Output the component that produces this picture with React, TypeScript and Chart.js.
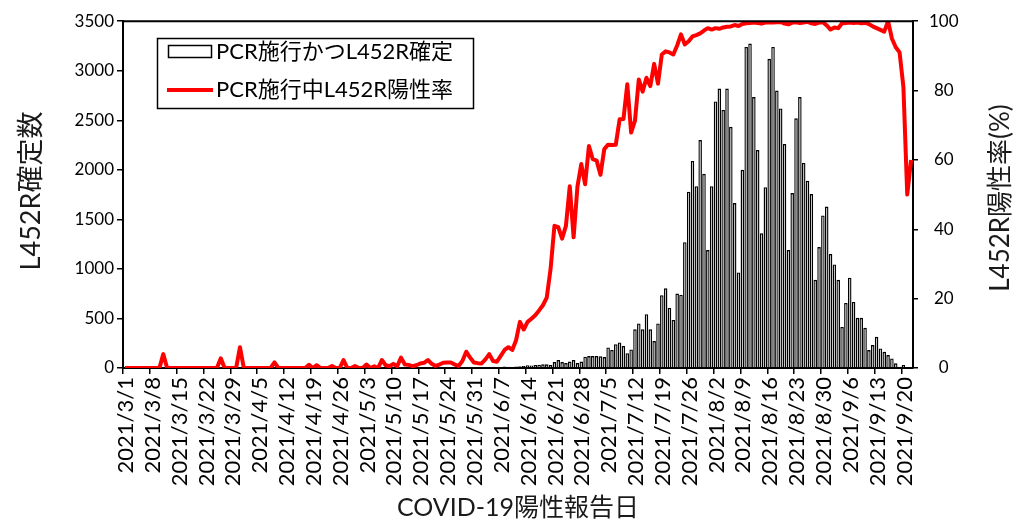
import { useEffect, useRef } from 'react';
import { Chart, registerables } from 'chart.js';

Chart.register(...registerables);

// ---- data ----
const START_DATE = [2021, 3, 1];
const DAY_COUNT = 206; // 2021/3/1 .. 2021/9/22

const tickLabels = [
  '2021/3/1', '2021/3/8', '2021/3/15', '2021/3/22', '2021/3/29', '2021/4/5', '2021/4/12',
  '2021/4/19', '2021/4/26', '2021/5/3', '2021/5/10', '2021/5/17', '2021/5/24', '2021/5/31',
  '2021/6/7', '2021/6/14', '2021/6/21', '2021/6/28', '2021/7/5', '2021/7/12', '2021/7/19',
  '2021/7/26', '2021/8/2', '2021/8/9', '2021/8/16', '2021/8/23', '2021/8/30', '2021/9/6',
  '2021/9/13', '2021/9/20',
];

const confirmedCounts = [
  0, 0, 0, 0, 0, 0, 0,
  0, 0, 0, 1, 0, 0, 0,
  0, 0, 0, 0, 0, 0, 0,
  0, 0, 0, 0, 1, 0, 0,
  0, 0, 1, 0, 0, 0, 0,
  0, 0, 0, 0, 1, 0, 0,
  0, 0, 0, 0, 0, 0, 1,
  0, 0, 1, 0, 0, 0, 1,
  1, 2, 1, 0, 1, 1, 0,
  1, 2, 1, 1, 2, 3, 1,
  2, 1, 1, 3, 2, 1, 2,
  2, 3, 2, 3, 1, 2, 2,
  2, 3, 3, 2, 2, 4, 3,
  3, 5, 8, 10, 8, 12, 9,
  10, 14, 12, 10, 15, 18, 20,
  28, 26, 30, 32, 37, 37, 30,
  60, 80, 60, 50, 65, 80, 50,
  65, 114, 120, 120, 120, 118, 110,
  208, 182, 240, 258, 221, 150, 187,
  390, 450, 390, 543, 390, 272, 450,
  735, 805, 607, 485, 752, 740, 1270,
  1780, 2090, 1835, 2300, 1960, 1190, 1835,
  2690, 2820, 2605, 2820, 2435, 1665, 965,
  2000, 3240, 3275, 2735, 2200, 1360, 1825,
  3120, 3240, 2800, 2620, 2260, 1190, 1765,
  2520, 2735, 2070, 1890, 1755, 890, 1220,
  1540, 1630, 1150, 1045, 890, 415, 657,
  912, 667, 506, 506, 405, 181, 231,
  315, 198, 164, 131, 97, 47, 13,
  30, 7, 3,
];

const positiveRate = [
  0, 0, 0, 0, 0, 0, 0,
  0, 0, 0, 4, 0, 0, 0,
  0, 0, 0, 0, 0, 0, 0,
  0, 0, 0, 0, 2.8, 0, 0,
  0, 0, 6, 0, 0, 0, 0,
  0, 0, 0, 0, 1.6, 0, 0,
  0, 0, 0, 0, 0, 0, 0.9,
  0, 0.8, 0, 0, 0, 0.6, 0,
  0, 2.3, 0, 0, 0.6, 0, 0,
  1, 0, 0.5, 0, 2.3, 0.8, 0.5,
  1.2, 0.5, 3, 1, 0.9, 0.5, 0.8,
  1.3, 1.5, 2.3, 1.2, 0.6, 1, 1.5,
  1.6, 1.6, 1, 0.6, 2, 4.7, 3,
  1.6, 1.4, 1.3, 2.5, 4, 2, 1.8,
  3.5, 5.2, 6, 5.2, 8, 13.3, 11.1,
  13.3, 14.2, 15.2, 16.6, 18.1, 20.3, 28.6,
  41, 40.6, 37.3, 41, 52.4, 37.7, 52.3,
  58.8, 53, 64, 60.2, 59.8, 55.7, 63.1,
  64.4, 64.3, 64.4, 71.7, 71.8, 81.8, 67.9,
  71.3, 83.2, 79.7, 83.7, 81.3, 87.7, 82,
  90.4, 91.3, 91, 90.4, 93, 96.2, 93.3,
  94.2, 95.6, 96, 96.5, 97.3, 98, 97.6,
  98, 97.8, 98.2, 98.4, 98.5, 98.9, 98.6,
  99.2, 99.4, 99.5, 99.6, 99.5, 99.3, 99.6,
  99.7, 99.6, 99.7, 99.8, 99.3, 99.1, 99.6,
  99.7, 99.5, 99.6, 99.8, 99.4, 99.2, 99.6,
  99.7, 98.8, 97.6, 98.2, 98, 99.4, 99.5,
  99.6, 99.5, 99.6, 99.4, 99.5, 99.2, 98.5,
  98, 97.5, 97, 100, 95, 92.5, 91,
  81, 50, 60,
];

const barLabel = 'PCR施行かつL452R確定';
const lineLabel = 'PCR施行中L452R陽性率';
const xTitle = 'COVID-19陽性報告日';
const yLeftTitle = 'L452R確定数';
const yRightTitle = 'L452R陽性率(%)';

function buildCategories(): string[] {
  const out: string[] = [];
  const d = new Date(START_DATE[0], START_DATE[1] - 1, START_DATE[2]);
  for (let i = 0; i < DAY_COUNT; i++) {
    out.push(`${d.getFullYear()}/${d.getMonth() + 1}/${d.getDate()}`);
    d.setDate(d.getDate() + 1);
  }
  return out;
}

const FONT_FAMILY = 'Lato, "Noto Sans CJK JP", sans-serif';

export default function App() {
  const canvasRef = useRef<HTMLCanvasElement | null>(null);

  useEffect(() => {
    document.body.style.margin = '0';
    const canvas = canvasRef.current;
    if (!canvas) return;
    const categories = buildCategories();

    const decorPlugin = {
      id: 'decor',
      afterDraw(chart: any) {
        const ctx = chart.ctx as CanvasRenderingContext2D;
        const area = chart.chartArea;
        const xs = chart.scales.x;
        ctx.save();
        // top border of plot area
        ctx.strokeStyle = '#000';
        ctx.lineWidth = 2;
        ctx.beginPath();
        ctx.moveTo(area.left, area.top);
        ctx.lineTo(area.right, area.top);
        ctx.stroke();

        // x tick labels
        ctx.fillStyle = '#000';
        ctx.font = `22px ${FONT_FAMILY}`;
        ctx.textAlign = 'right';
        ctx.textBaseline = 'middle';
        for (const lab of tickLabels) {
          const idx = categories.indexOf(lab);
          if (idx < 0) continue;
          const x = xs.getPixelForValue(idx);
          ctx.save();
          ctx.translate(x + 1, area.bottom + 9);
          ctx.rotate(-Math.PI / 2);
          ctx.fillText(lab, 0, 0);
          ctx.restore();
        }

        // axis titles
        ctx.font = `25px ${FONT_FAMILY}`;
        ctx.textAlign = 'center';
        ctx.textBaseline = 'middle';
        ctx.fillStyle = '#1a1a1a';
        ctx.fillText(xTitle, 518, 508);

        ctx.font = `27px ${FONT_FAMILY}`;
        ctx.save();
        ctx.translate(31, 191);
        ctx.rotate(-Math.PI / 2);
        ctx.fillText(yLeftTitle, 0, 0);
        ctx.restore();

        ctx.font = `26px ${FONT_FAMILY}`;
        ctx.save();
        ctx.translate(1001, 198);
        ctx.rotate(-Math.PI / 2);
        ctx.fillText(yRightTitle, 0, 0);
        ctx.restore();

        // legend
        ctx.fillStyle = '#fff';
        ctx.fillRect(157, 38, 316, 70);
        ctx.strokeStyle = '#000';
        ctx.lineWidth = 1.5;
        ctx.strokeRect(157.5, 38.5, 316, 70);
        ctx.fillStyle = '#fff';
        ctx.fillRect(168, 45, 43, 12);
        ctx.lineWidth = 1.5;
        ctx.strokeRect(168.5, 45.5, 43, 12);
        ctx.strokeStyle = '#ff0000';
        ctx.lineWidth = 4;
        ctx.beginPath();
        ctx.moveTo(167, 90);
        ctx.lineTo(213, 90);
        ctx.stroke();
        ctx.fillStyle = '#000';
        ctx.font = `22px ${FONT_FAMILY}`;
        ctx.textAlign = 'left';
        ctx.textBaseline = 'middle';
        ctx.fillText(barLabel, 216, 52);
        ctx.fillText(lineLabel, 216, 90);
        ctx.restore();
      },
    };

    const chart = new Chart(canvas, {
      type: 'bar',
      data: {
        labels: categories,
        datasets: [
          {
            type: 'line',
            label: lineLabel,
            data: positiveRate,
            yAxisID: 'y2',
            borderColor: '#ff0000',
            borderWidth: 4,
            pointRadius: 0,
            tension: 0,
            order: 0,
            borderJoinStyle: 'round',
          } as any,
          {
            type: 'bar',
            label: barLabel,
            data: confirmedCounts,
            yAxisID: 'y',
            backgroundColor: '#c8c8c8',
            borderColor: '#000000',
            borderWidth: 1.4,
            barPercentage: 0.92,
            categoryPercentage: 1,
            order: 1,
          } as any,
        ],
      },
      options: {
        responsive: false,
        animation: false,
        devicePixelRatio: 1,
        layout: { padding: { top: 20, left: 0, right: 0, bottom: 0 } },
        plugins: {
          legend: { display: false },
          title: { display: false },
          tooltip: { enabled: false },
        },
        scales: {
          x: {
            type: 'category',
            offset: true,
            grid: {
              offset: true,
              drawOnChartArea: false,
              drawTicks: true,
              tickLength: 6,
              lineWidth: 1.5,
              color: (c: any) => (c.index % 7 === 0 ? '#000' : 'rgba(0,0,0,0)'),
            },
            border: { display: true, color: '#000', width: 2 },
            ticks: { display: false, autoSkip: false },
            afterFit: (s: any) => { s.height = 153; },
          },
          y: {
            position: 'left',
            min: 0,
            max: 3500,
            ticks: {
              stepSize: 500,
              color: '#000',
              padding: 3,
              font: { family: FONT_FAMILY, size: 17 },
              callback: (v: any) => String(v),
            },
            grid: { drawOnChartArea: false, tickLength: 6, color: '#000', lineWidth: 1.5 },
            border: { display: true, color: '#000', width: 2 },
            afterFit: (s: any) => { s.width = 123; },
          },
          y2: {
            position: 'right',
            min: 0,
            max: 100,
            ticks: {
              stepSize: 20,
              color: '#000',
              padding: 11,
              crossAlign: 'center',
              font: { family: FONT_FAMILY, size: 17 },
              callback: (v: any) => String(v),
            },
            grid: { drawOnChartArea: false, tickLength: 5, color: '#000', lineWidth: 1.5 },
            border: { display: true, color: '#000', width: 2 },
            afterFit: (s: any) => { s.width = 104; },
          },
        },
      },
      plugins: [decorPlugin],
    } as any);

    return () => chart.destroy();
  }, []);

  return (
    <div style={{ position: 'fixed', left: 0, top: 0, width: 1017, height: 521, background: '#fff' }}>
      <canvas ref={canvasRef} width={1017} height={521} style={{ width: 1017, height: 521, display: 'block' }} />
    </div>
  );
}
